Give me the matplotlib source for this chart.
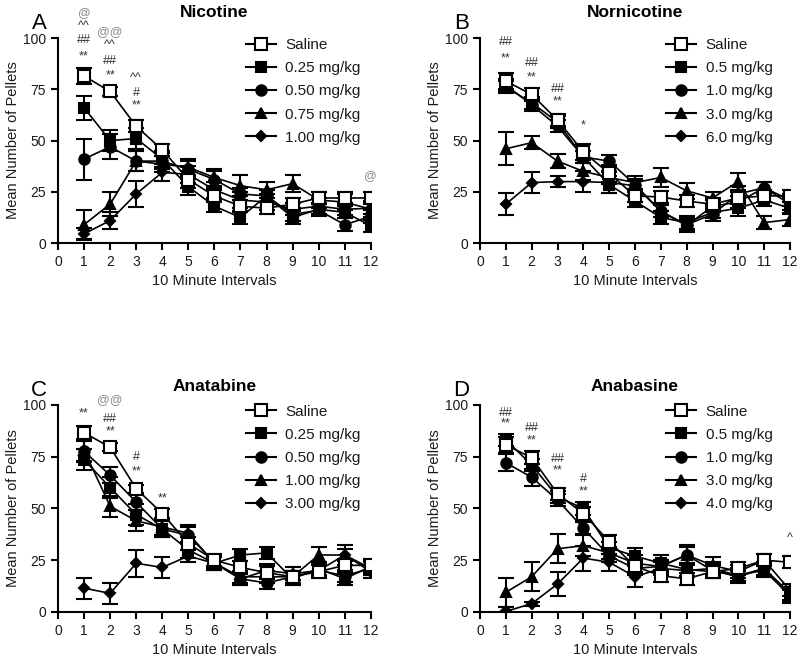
import matplotlib
matplotlib.use("Agg")
import matplotlib.pyplot as plt
import numpy as np

plt.rcParams['font.family'] = ['Liberation Sans', 'DejaVu Sans']

intervals = list(range(1, 13))

# ---- Panel A: Nicotine ----
nic_labels = ["Saline", "0.25 mg/kg", "0.50 mg/kg", "0.75 mg/kg", "1.00 mg/kg"]
nic_saline = [81.5, 74, 57, 45.5, 31, 23, 18, 17, 19, 22, 22, 22]
nic_d1 = [66, 50, 51, 41, 27.5, 18, 12.5, 23, 12.5, 16.5, 15, 8.5]
nic_d2 = [41, 47, 40, 40, 36, 31, 24, 23, 14, 16, 9, 13]
nic_d3 = [9, 19, 40, 38.5, 37, 32, 28, 26, 29, 21, 20, 16.5]
nic_d4 = [4.5, 11, 24, 34.5, 33.5, 26, 21, 20, 16.5, 18, 16.5, 17]
nic_saline_err = [4, 2, 3, 3, 4, 3, 3, 3, 3, 3, 3, 3]
nic_d1_err = [6, 5, 5, 4, 4, 3, 3, 3, 3, 3, 3, 3]
nic_d2_err = [10, 6, 5, 4, 4, 4, 3, 3, 3, 3, 3, 3]
nic_d3_err = [7, 6, 5, 4, 4, 4, 5, 4, 4, 4, 4, 4]
nic_d4_err = [3, 4, 6.5, 4, 4, 4, 4, 4, 3, 4, 3, 3]
nic_sig_x = [1, 1, 1, 1, 2, 2, 2, 2, 3, 3, 3, 12]
nic_sig_y = [112, 106, 99, 91, 103, 96.5, 89, 82, 80.5, 73, 67, 32.5]
nic_sig_text = ["@", "^^", "##", "**", "@@", "^^", "##", "**", "^^", "#", "**", "@"]

# ---- Panel B: Nornicotine ----
nor_labels = ["Saline", "0.5 mg/kg", "1.0 mg/kg", "3.0 mg/kg", "6.0 mg/kg"]
nor_saline = [79, 72.5, 60, 44.5, 34, 23, 22.5, 20.5, 19, 22, 23, 23]
nor_d1 = [76, 68.5, 59, 42, 28.5, 20.5, 12.5, 10, 15, 17, 21, 17]
nor_d2 = [77, 67.5, 57, 42, 40, 28.5, 15.5, 9, 14, 24, 27, 21]
nor_d3 = [46, 49, 40, 35, 32, 29.5, 32, 25.5, 22, 30, 10, 11.5]
nor_d4 = [19, 29.5, 30, 30, 29.5, 28, 15.5, 8.5, 18, 20, 27, 19]
nor_saline_err = [4, 3, 3, 4, 4, 3, 3, 3, 3, 3, 3, 3]
nor_d1_err = [3, 3, 3, 3, 4, 3, 3, 3, 3, 4, 3, 3]
nor_d2_err = [3, 3, 3, 3, 3, 3, 3, 3, 3, 4, 3, 3]
nor_d3_err = [8, 3, 3.5, 4, 3, 3, 4.5, 4, 3, 4, 3, 3]
nor_d4_err = [5.5, 5, 2.5, 5, 5, 3, 3, 3, 3, 3, 3, 3]
nor_sig_x = [1, 1, 2, 2, 3, 3, 4]
nor_sig_y = [98, 90, 88, 81, 75, 69, 57.5]
nor_sig_text = ["##", "**", "##", "**", "##", "**", "*"]

# ---- Panel C: Anatabine ----
ana_labels = ["Saline", "0.25 mg/kg", "0.50 mg/kg", "1.00 mg/kg", "3.00 mg/kg"]
ana_saline = [86.5, 79.5, 59.5, 47.5, 33, 25, 21.5, 19, 17, 19.5, 22.5, 22.5]
ana_d1 = [73.5, 60, 47, 40, 30, 23.5, 27.5, 28.5, 16, 21, 16, 22]
ana_d2 = [77.5, 66, 53, 40, 37, 24, 16, 14, 17, 20, 17.5, 21]
ana_d3 = [78, 51, 44, 41, 38, 23.5, 17, 17, 17, 27.5, 27.5, 21]
ana_d4 = [11.5, 9, 23.5, 21.5, 27, 23.5, 16, 20, 18.5, 20, 27.5, 19.5]
ana_saline_err = [3, 2, 2, 2, 3, 3, 3, 3, 3, 3, 3, 3]
ana_d1_err = [5, 5, 5, 4, 4, 3, 3, 3, 3, 3, 3, 3]
ana_d2_err = [5, 4, 4, 4, 4, 3, 3, 3, 3, 3, 3, 3]
ana_d3_err = [5, 5, 5, 4, 4, 3, 3, 3, 3, 4, 3, 3]
ana_d4_err = [5, 5, 6.5, 5, 3, 3, 3, 3, 3, 3, 5, 3]
ana_sig_x = [1, 2, 2, 2, 3, 3, 4]
ana_sig_y = [96, 102, 93, 87, 75, 68, 55]
ana_sig_text = ["**", "@@", "##", "**", "#", "**", "**"]

# ---- Panel D: Anabasine ----
anb_labels = ["Saline", "0.5 mg/kg", "1.0 mg/kg", "3.0 mg/kg", "4.0 mg/kg"]
anb_saline = [80.5, 74.5, 57, 47.5, 34, 22, 17.5, 16, 19.5, 21, 25, 24]
anb_d1 = [83, 71, 55.5, 50, 31, 27, 23.5, 20.5, 19.5, 18, 20, 8]
anb_d2 = [72, 65, 54, 40.5, 27, 21, 22, 27.5, 20, 17, 21, 9]
anb_d3 = [9.5, 17, 30.5, 32, 28.5, 23.5, 22, 27.5, 22.5, 19.5, 25, 10.5]
anb_d4 = [0.3, 4, 13.5, 26, 24, 17, 21, 20, 21, 17.5, 21, 7.5]
anb_saline_err = [4, 3, 3, 3, 3, 3, 3, 3, 3, 3, 3, 3]
anb_d1_err = [3, 3, 3, 3, 3, 4, 4, 3, 3, 3, 3, 3]
anb_d2_err = [4, 4, 3, 3, 3, 3, 3, 4, 3, 3, 3, 3]
anb_d3_err = [7, 7, 7, 5, 3, 4, 3, 5, 4, 3, 3, 3]
anb_d4_err = [2, 1, 6, 6, 4, 5, 3, 3, 3, 3, 3, 3]
anb_sig_x = [1, 1, 2, 2, 3, 3, 4, 4, 12]
anb_sig_y = [96, 91, 89, 83, 74, 68.5, 64, 58, 35.5]
anb_sig_text = ["##", "**", "##", "**", "##", "**", "#", "**", "^"]

panels = [
    ("A", "Nicotine", nic_labels, [nic_saline, nic_d1, nic_d2, nic_d3, nic_d4],
     [nic_saline_err, nic_d1_err, nic_d2_err, nic_d3_err, nic_d4_err],
     nic_sig_x, nic_sig_y, nic_sig_text),
    ("B", "Nornicotine", nor_labels, [nor_saline, nor_d1, nor_d2, nor_d3, nor_d4],
     [nor_saline_err, nor_d1_err, nor_d2_err, nor_d3_err, nor_d4_err],
     nor_sig_x, nor_sig_y, nor_sig_text),
    ("C", "Anatabine", ana_labels, [ana_saline, ana_d1, ana_d2, ana_d3, ana_d4],
     [ana_saline_err, ana_d1_err, ana_d2_err, ana_d3_err, ana_d4_err],
     ana_sig_x, ana_sig_y, ana_sig_text),
    ("D", "Anabasine", anb_labels, [anb_saline, anb_d1, anb_d2, anb_d3, anb_d4],
     [anb_saline_err, anb_d1_err, anb_d2_err, anb_d3_err, anb_d4_err],
     anb_sig_x, anb_sig_y, anb_sig_text),
]

styles = [
    dict(marker="s", mfc="white", ms=8),
    dict(marker="s", mfc="black", ms=7.5),
    dict(marker="o", mfc="black", ms=7.5),
    dict(marker="^", mfc="black", ms=7.5),
    dict(marker="D", mfc="black", ms=5),
]

fig = plt.figure(figsize=(8, 6.57), dpi=100)
positions = [
    [0.0725, 0.630, 0.391, 0.312],
    [0.600, 0.630, 0.3875, 0.312],
    [0.0725, 0.0685, 0.391, 0.3155],
    [0.600, 0.0685, 0.3875, 0.3155],
]
title_pads = [15, 15, 10, 10]
txtcol = "#1a1a1a"

for pos, tpad, (letter, title, labels, series, errs, sx, sy, st) in zip(positions, title_pads, panels):
    ax = fig.add_axes(pos)
    handles = []
    for i in [4, 3, 2, 1, 0]:
        st_ = styles[i]
        ax.errorbar(intervals, series[i], yerr=errs[i], color="black",
                    marker=st_["marker"], mfc=st_["mfc"], mec="black",
                    ms=st_["ms"], mew=1.5, lw=1.2, elinewidth=1.5,
                    capsize=6, capthick=1.5, zorder=3 + (5 - i))
    for i in range(5):
        st_ = styles[i]
        h, = ax.plot([], [], color="black", marker=st_["marker"], mfc=st_["mfc"],
                     mec="black", ms=st_["ms"], mew=1.5, lw=1.5)
        handles.append(h)
    ax.set_xlim(0, 12)
    ax.set_ylim(0, 100)
    ax.set_xticks(range(0, 13))
    ax.set_yticks([0, 25, 50, 75, 100])
    for s in ["top", "right"]:
        ax.spines[s].set_visible(False)
    for s in ["left", "bottom"]:
        ax.spines[s].set_linewidth(1.5)
    ax.tick_params(direction="out", width=1.5, length=5, labelsize=10,
                   labelcolor=txtcol)
    ax.set_xlabel("10 Minute Intervals", fontsize=10.5, color=txtcol, labelpad=4)
    ax.set_ylabel("Mean Number of Pellets", fontsize=10.5, color=txtcol, labelpad=2)
    ax.set_title(title, fontsize=12.5, fontweight="bold", pad=tpad, color="black")
    ax.text(-0.06, 1.07, letter, transform=ax.transAxes, fontsize=16,
            ha="center", va="center", color="black")
    leg = ax.legend(handles, labels, loc="upper left", bbox_to_anchor=(0.58, 1.03),
                    frameon=False, fontsize=11, handlelength=2.0, handletextpad=0.6,
                    labelspacing=0.6, borderaxespad=0)
    for t in leg.get_texts():
        t.set_color(txtcol)
    for x, y, t in zip(sx, sy, st):
        col = "#888888" if "@" in t else "#333333"
        ax.text(x, y, t, ha="center", va="center", fontsize=9, color=col,
                clip_on=False)

fig.savefig("out.png", dpi=100)
